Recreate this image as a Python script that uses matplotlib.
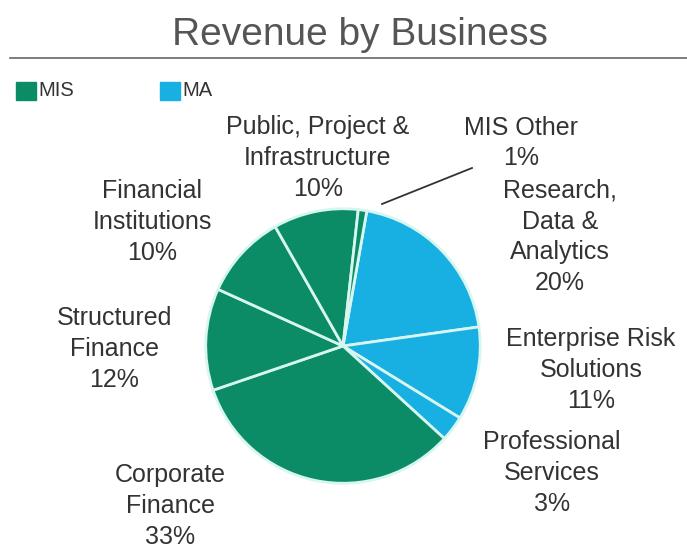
import matplotlib.pyplot as plt
from matplotlib.patches import Rectangle
from matplotlib.lines import Line2D

plt.rcParams['font.family'] = ['Liberation Sans', 'DejaVu Sans']

# revenue share by business, clockwise from the top
segments = ['Research,\nData &\nAnalytics', 'Enterprise Risk\nSolutions', 'Professional\nServices',
            'Corporate\nFinance', 'Structured\nFinance', 'Financial\nInstitutions',
            'Public, Project &\nInfrastructure', 'MIS Other']
shares = [20, 11, 3, 33, 12, 10, 10, 1]
groups = ['MA', 'MA', 'MA', 'MIS', 'MIS', 'MIS', 'MIS', 'MIS']

group_colors = {'MIS': '#0b8c66', 'MA': '#18afe3'}

W, H = 687, 551
fig = plt.figure(figsize=(W / 100, H / 100), dpi=100)

def fx(x):
    return x / W

def fy(y):
    return 1 - y / H

# pie: centre (343, 346), radius 140 px
cx, cy, r = 343, 346, 140
ax = fig.add_axes([fx(cx - r), fy(cy + r), 2 * r / W, 2 * r / H])
ax.pie(shares, colors=[group_colors[g] for g in groups], startangle=80, counterclock=False,
       wedgeprops=dict(edgecolor='#d6f6ef', linewidth=2))
ax.set_xlim(-1.02, 1.02)
ax.set_ylim(-1.02, 1.02)
ax.axis('off')

# title and rule
fig.text(fx(360), fy(35), 'Revenue by Business', fontsize=28, color='#555555', ha='center', va='center')
fig.add_artist(Line2D([fx(10), fx(687)], [fy(58), fy(58)], color='#666666', lw=1.2))

# legend
for (x0, name) in [(16, 'MIS'), (160, 'MA')]:
    fig.add_artist(Rectangle((fx(x0), fy(100)), 20 / W, 18 / H, color=group_colors[name],
                             transform=fig.transFigure))
    fig.text(fx(x0 + 22), fy(91), name, fontsize=14.5, color='#333333', ha='left', va='center')

# slice labels (x, y of block centre in px)
label_pos = [(560, 237), (591, 370), (552, 473), (170, 506), (114, 349), (152, 222), (318, 158), (521, 143)]
for name, val, (x, y) in zip(segments, shares, label_pos):
    fig.text(fx(x), fy(y), f'{name}\n{val}%', fontsize=18, color='#333333', ha='center', va='center',
             linespacing=1.36)

# leader line for the 1% slice
fig.add_artist(Line2D([fx(382), fx(472)], [fy(204), fy(168)], color='#333333', lw=1.3))

fig.savefig('out.png', dpi=100)
